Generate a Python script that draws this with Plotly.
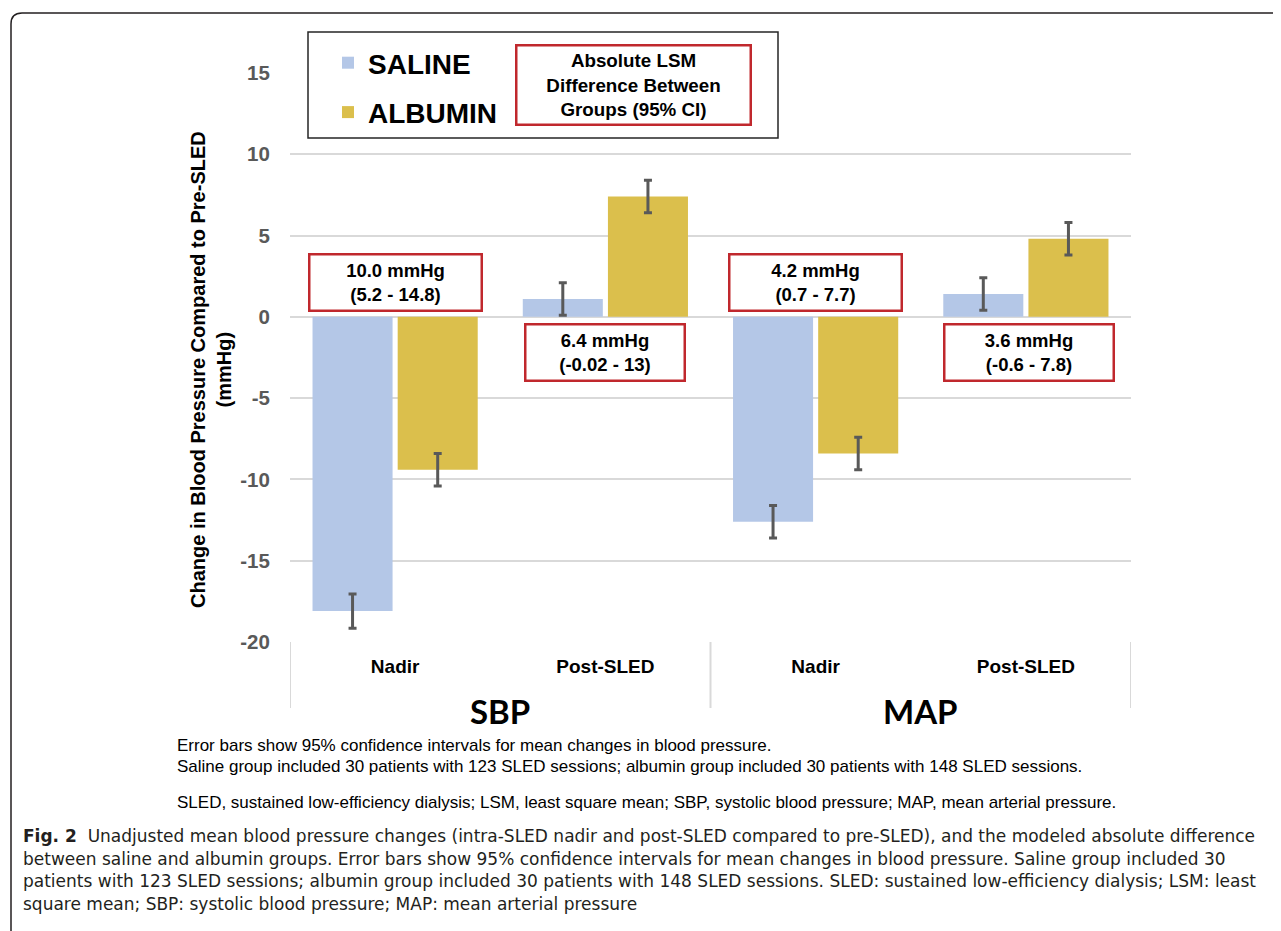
import plotly.graph_objects as go

# ---------------- data ----------------
subgroups = ["Nadir", "Post-SLED", "Nadir", "Post-SLED"]
groups = ["SBP", "MAP"]
saline = [-18.1, 1.1, -12.6, 1.4]
saline_err = [1.05, 1.0, 1.0, 1.0]
albumin = [-9.4, 7.4, -8.4, 4.8]
albumin_err = [1.0, 1.0, 1.0, 1.0]
lsm_diff = ["10.0", "6.4", "4.2", "3.6"]
lsm_ci = ["5.2 - 14.8", "-0.02 - 13", "0.7 - 7.7", "-0.6 - 7.8"]
lsm_y = [2.1, -2.2, 2.1, -2.2]
y_ticks = [15, 10, 5, 0, -5, -10, -15, -20]

# ---------------- layout helpers ----------------
OFF = 8  # page body margin
WP, HP = 1281, 931
W, H = WP - OFF, HP - OFF
L, R, T, B = 290, 1131, 73, 642
PW, PH = R - L, B - T
box_w = [170, 157, 170, 167]
box_dx = [0.0, 0.0, 0.0, 0.015]


def px(x):
    return (x - L) / PW


def py(y):
    return (B - y) / PH


ARIAL = "Arial, Liberation Sans, sans-serif"
pos = list(range(len(subgroups)))

fig = go.Figure()
fig.add_trace(go.Bar(
    x=pos, y=saline, name="SALINE", legendgroup="s",
    marker=dict(color="#b4c7e7", line=dict(width=0)),
    error_y=dict(type="data", array=saline_err, color="#595959", thickness=3, width=4),
))
fig.add_trace(go.Bar(
    x=pos, y=albumin, name="ALBUMIN", legendgroup="a",
    marker=dict(color="#dbbf4c", line=dict(width=0)),
    error_y=dict(type="data", array=albumin_err, color="#595959", thickness=3, width=4),
))

shapes = []
for xv in [-0.5, 1.5, 3.5]:
    shapes.append(dict(type="line", xref="x", yref="paper", x0=xv, x1=xv,
                       y0=0, y1=py(708), line=dict(color="#d9d9d9", width=2)))
shapes.append(dict(type="rect", xref="paper", yref="paper",
                   x0=px(308), x1=px(778), y0=py(138), y1=py(32),
                   line=dict(color="#262626", width=1.5), fillcolor="white", layer="below"))
shapes.append(dict(type="path", xref="paper", yref="paper",
                   path=(f"M {px(11)},{py(940)} L {px(11)},{py(24)} "
                         f"Q {px(11)},{py(13)} {px(22)},{py(13)} L {px(1290)},{py(13)}"),
                   line=dict(color="#231f20", width=1.5)))

annotations = []
for i in range(len(lsm_diff)):
    annotations.append(dict(
        x=pos[i] + box_dx[i], y=lsm_y[i], xref="x", yref="y", xanchor="center", yanchor="middle",
        text=f"<b>{lsm_diff[i]} mmHg<br>({lsm_ci[i]})</b>",
        showarrow=False, font=dict(family=ARIAL, size=18.5, color="black"),
        bgcolor="white", bordercolor="#c0282d", borderwidth=2.5, borderpad=0,
        width=box_w[i], height=54, align="center"))
annotations.append(dict(
    x=px(633.5), y=py(85), xref="paper", yref="paper", xanchor="center", yanchor="middle",
    text="<b>Absolute LSM<br>Difference Between<br>Groups (95% CI)</b>",
    showarrow=False, font=dict(family=ARIAL, size=18.8, color="black"),
    bgcolor="white", bordercolor="#c0282d", borderwidth=2.5, borderpad=0,
    width=232, height=77, align="center"))
for gi, g in enumerate(groups):
    annotations.append(dict(
        x=gi * 2 + 0.5, y=py(711), xref="x", yref="paper", xanchor="center", yanchor="middle",
        text=f"<b>{g}</b>", showarrow=False,
        font=dict(family="Lato, sans-serif", size=33, color="black")))
annotations.append(dict(
    x=px(211), y=py(370), xref="paper", yref="paper", xanchor="center", yanchor="middle",
    text="<b>Change in Blood Pressure Compared to Pre-SLED<br>(mmHg)</b>", textangle=-90,
    showarrow=False, font=dict(family=ARIAL, size=20, color="black")))
notes = [
    ("Error bars show 95% confidence intervals for mean changes in blood pressure.", 745),
    ("Saline group included 30 patients with 123 SLED sessions; albumin group included 30 patients with 148 SLED sessions.", 766),
    ("SLED, sustained low-efficiency dialysis; LSM, least square mean; SBP, systolic blood pressure; MAP, mean arterial pressure.", 802),
]
for txt, yy in notes:
    annotations.append(dict(
        x=px(175), y=py(yy), xref="paper", yref="paper", xanchor="left", yanchor="middle",
        text=txt, showarrow=False, font=dict(family=ARIAL, size=17, color="black")))
caption = [
    "<b>Fig. 2</b>  Unadjusted mean blood pressure changes (intra-SLED nadir and post-SLED compared to pre-SLED), and the modeled absolute difference",
    "between saline and albumin groups. Error bars show 95% confidence intervals for mean changes in blood pressure. Saline group included 30",
    "patients with 123 SLED sessions; albumin group included 30 patients with 148 SLED sessions. SLED: sustained low-efficiency dialysis; LSM: least",
    "square mean; SBP: systolic blood pressure; MAP: mean arterial pressure",
]
for k, line in enumerate(caption):
    annotations.append(dict(
        x=px(21), y=py(836 + k * 22.5), xref="paper", yref="paper", xanchor="left", yanchor="middle",
        text=line, showarrow=False, font=dict(family="DejaVu Sans, sans-serif", size=17, color="#231f20")))

fig.update_layout(
    width=W, height=H,
    margin=dict(l=L - OFF, r=WP - R, t=T - OFF, b=HP - B, autoexpand=False),
    paper_bgcolor="white", plot_bgcolor="white",
    barmode="group", bargap=0.19, bargroupgap=0.06,
    showlegend=True,
    legend=dict(x=px(328), y=py(38), xanchor="left", yanchor="top",
                font=dict(family=ARIAL, size=28, color="black", weight="bold"),
                traceorder="grouped", tracegroupgap=10, bgcolor="rgba(0,0,0,0)",
                itemwidth=30),
    xaxis=dict(range=[-0.5, 3.5], tickmode="array", tickvals=pos, ticktext=subgroups,
               showgrid=False, zeroline=False, showline=False,
               ticks="outside", ticklen=7, tickcolor="rgba(0,0,0,0)",
               tickfont=dict(family=ARIAL, size=19, color="black", weight="bold")),
    yaxis=dict(range=[-20, 15], tickmode="array", tickvals=y_ticks,
               ticktext=[str(v) for v in y_ticks],
               showgrid=True, gridcolor="#d9d9d9", gridwidth=2,
               zeroline=True, zerolinecolor="#d9d9d9", zerolinewidth=2,
               showline=False, ticks="outside", ticklen=15, tickcolor="rgba(0,0,0,0)",
               tickfont=dict(family=ARIAL, size=20.5, color="#595959", weight="bold")),
    shapes=shapes, annotations=annotations,
)

fig.write_html("out.html")
